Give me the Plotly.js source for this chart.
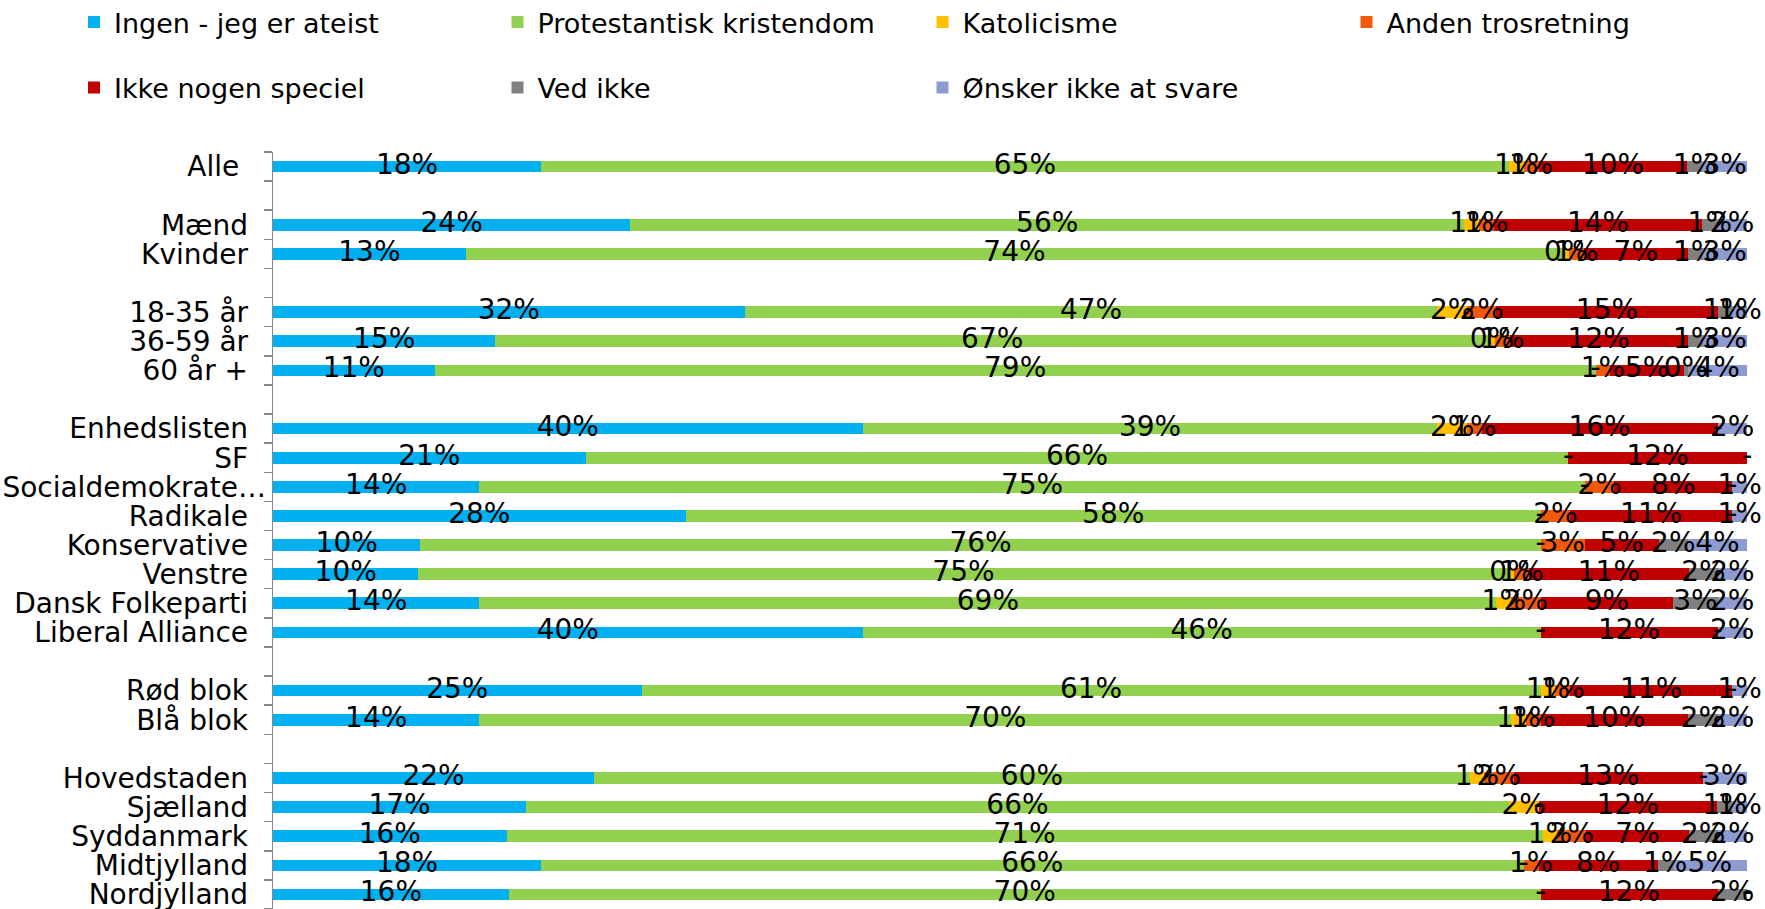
<!DOCTYPE html>
<html>
<head>
<meta charset="utf-8">
<script src="https://cdn.plot.ly/plotly-3.0.1.min.js"></script>
<style>html,body{margin:0;padding:0;background:#fff;}#chart{width:1765px;height:909px;}</style>
</head>
<body>
<div id="chart"></div>
<script>
// Categories (blank rows are separators)
const categories = ["Alle", "\u00a0", "Mænd", "Kvinder", "\u00a0\u00a0", "18-35 år", "36-59 år", "60 år +", "\u00a0\u00a0\u00a0",
  "Enhedslisten", "SF", "Socialdemokrate…", "Radikale", "Konservative", "Venstre", "Dansk Folkeparti", "Liberal Alliance", "\u00a0\u00a0\u00a0\u00a0",
  "Rød blok", "Blå blok", "\u00a0\u00a0\u00a0\u00a0\u00a0",
  "Hovedstaden", "Sjælland", "Syddanmark", "Midtjylland", "Nordjylland"];

const seriesNames = ["Ingen - jeg er ateist", "Protestantisk kristendom", "Katolicisme", "Anden trosretning", "Ikke nogen speciel", "Ved ikke", "Ønsker ikke at svare"];

const ingen  = [18,null,24,13,null,32,15,11,null,40,21,14,28,10,10,14,40,null,25,14,null,22,17,16,18,16];
const prot   = [65,null,56,74,null,47,67,79,null,39,66,75,58,76,75,69,46,null,61,70,null,60,66,71,66,70];
const kat    = [1,null,1,0.4,null,2,0.4,0,null,2,0,0,0,0,0.4,1,0,null,1,1,null,1,2,1,0,0];
const anden  = [1,null,1,1,null,2,1,1,null,1,0,2,2,3,1,2,0,null,1,1,null,2,0,2,1,0];
const ikke   = [10,null,14,7,null,15,12,5,null,16,12,8,11,5,11,9,12,null,11,10,null,13,12,7,8,12];
const vedIkke= [1,null,1,1,null,1,1,0.3,null,0,0,0,0,2,2,3,0,null,0,2,null,0,1,2,1,2];
const onsker = [3,null,2,3,null,1,3,4,null,2,0,1,1,4,2,2,2,null,1,2,null,3,1,2,5,0];

const colors = ["#00B0F0", "#92D050", "#FFC000", "#F05A0A", "#C00000", "#808080", "#8E9BD0"];

const series = [ingen, prot, kat, anden, ikke, vedIkke, onsker];
const FONT = "DejaVu Sans";
const legendIds = ["legend", "legend2", "legend3", "legend4", "legend5", "legend6", "legend7"];

// tick labels: the truncated label sits closer to the axis than the others
const tickText = categories.map(c => {
  if (c.trim() === "" || c.replace(/\u00a0/g, "") === "") return "";
  if (c === "Socialdemokrate…") return c;
  if (c === "Alle") return c + "\u00a0\u00a0\u00a0";
  return c + "\u00a0\u00a0";
});

const traces = [];
series.forEach((vals, s) => {
  traces.push({
    type: "bar", orientation: "h", name: seriesNames[s],
    x: vals, y: categories,
    marker: {color: colors[s], line: {width: 0}},
    hoverinfo: "name+x",
    legend: legendIds[s]
  });
});

// data labels, centred on each (normalised) segment
series.forEach((vals, s) => {
  const xs = [], txt = [];
  for (let i = 0; i < categories.length; i++) {
    if (vals[i] === null) { xs.push(null); txt.push(""); continue; }
    let total = 0, before = 0;
    series.forEach((v2, k) => { total += v2[i]; if (k < s) before += v2[i]; });
    xs.push((before + vals[i] / 2) / total * 100);
    txt.push(vals[i] === 0 ? "-" : Math.round(vals[i]) + "%");
  }
  traces.push({
    type: "scatter", mode: "text", x: xs, y: categories, text: txt,
    textposition: "middle center",
    textfont: {family: FONT, size: 28, color: "#000"},
    showlegend: false, hoverinfo: "skip", cliponaxis: false
  });
});

const layout = {
  width: 1765, height: 909,
  margin: {l: 273, r: 18, t: 152, b: 0},
  paper_bgcolor: "#fff", plot_bgcolor: "#fff",
  barmode: "stack", barnorm: "percent", bargap: 0.6,
  font: {family: FONT, size: 28, color: "#000"},
  xaxis: {range: [0, 100], visible: false, fixedrange: true},
  yaxis: {
    type: "category", range: [25.5, -0.5], tickson: "boundaries",
    tickmode: "array", tickvals: categories, ticktext: tickText,
    ticks: "outside", ticklen: 8, tickwidth: 1.5, tickcolor: "#888",
    showline: true, linecolor: "#888", linewidth: 1.5,
    showgrid: false, zeroline: false, ticklabelstandoff: 0,
    tickfont: {family: FONT, size: 28, color: "#000"}
  },
  showlegend: true
};

// one legend per entry: 4 columns in row 1, 3 in row 2
const colX = [74, 497.5, 922.5, 1346.5];
const rowY = [22.5, 88];
legendIds.forEach((id, s) => {
  const col = s < 4 ? s : s - 4;
  const row = s < 4 ? 0 : 1;
  layout[id] = {
    orientation: "h", xref: "container", yref: "container",
    x: colX[col] / 1765, xanchor: "left",
    y: 1 - rowY[row] / 909, yanchor: "middle",
    itemwidth: 30,
    font: {family: FONT, size: 27, color: "#000"}, bgcolor: "rgba(0,0,0,0)"
  };
});

Plotly.newPlot("chart", traces, layout, {displayModeBar: false, staticPlot: true});
</script>
</body>
</html>
